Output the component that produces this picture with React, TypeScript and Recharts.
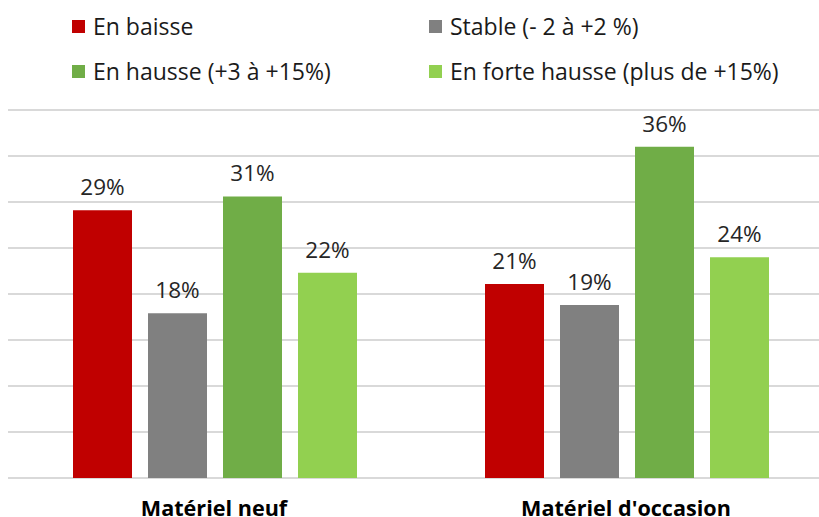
import React from "react";
import { BarChart, Bar, XAxis, YAxis, CartesianGrid, LabelList } from "recharts";

const categories = ["Matériel neuf", "Matériel d'occasion"];
const seriesNames = ["En baisse", "Stable (- 2 à +2 %)", "En hausse (+3 à +15%)", "En forte hausse (plus de +15%)"];
const enBaisse = [29.1, 21.1];
const stable = [17.9, 18.8];
const enHausse = [30.6, 36.0];
const forteHausse = [22.3, 24.0];
const yTicks = [0, 5, 10, 15, 20, 25, 30, 35, 40];

const colors = ["#C00000", "#808080", "#70AD47", "#92D050"];
const keys = ["baisse", "stable", "hausse", "forte"];
const seriesValues = [enBaisse, stable, enHausse, forteHausse];

const data = categories.map((c, i) => {
  const row: any = { name: c };
  keys.forEach((k, j) => (row[k] = seriesValues[j][i]));
  return row;
});

const FONT = "'Open Sans', 'Liberation Sans', sans-serif";

const Tick = (props: any) => {
  const { x, y, payload } = props;
  return (
    <text x={x} y={y} dy={38} textAnchor="middle" fill="#000" fontFamily={FONT} fontSize={21.6} fontWeight="bold">
      {payload.value}
    </text>
  );
};

const legendPos = [
  { left: 72, top: 19 },
  { left: 429, top: 19 },
  { left: 72, top: 64 },
  { left: 429, top: 64 },
];

export default function App() {
  return (
    <div style={{ position: "absolute", left: 0, top: 0, width: 819, height: 517, overflow: "hidden", background: "#fff" }}>
      {seriesNames.map((n, i) => (
        <div key={n} style={{ position: "absolute", left: legendPos[i].left, top: legendPos[i].top - 9, height: 32, display: "flex", alignItems: "center", fontFamily: FONT, fontSize: 23, color: "#1a1a1a", whiteSpace: "nowrap" }}>
          <span style={{ display: "inline-block", width: 13, height: 13, background: colors[i], marginRight: 8 }} />
          <span>{n}</span>
        </div>
      ))}
      <div style={{ position: "absolute", left: 0, top: 0 }}>
        <BarChart width={832} height={540} data={data} margin={{ top: 110, right: 0, left: 8, bottom: 0 }} barCategoryGap={65} barGap={16}>
          <CartesianGrid vertical={false} stroke="#d9d9d9" strokeWidth={2} />
          <YAxis hide domain={[0, 40]} ticks={yTicks} />
          <XAxis dataKey="name" height={62} axisLine={false} tickLine={false} tickSize={0} tickMargin={0} tick={<Tick />} interval={0} />
          {keys.map((k, i) => (
            <Bar key={k} dataKey={k} name={seriesNames[i]} fill={colors[i]} isAnimationActive={false}>
              <LabelList dataKey={k} position="top" offset={15} formatter={(v: any) => `${Math.round(v)}%`} fill="#262626" fontFamily={FONT} fontSize={22.5} />
            </Bar>
          ))}
        </BarChart>
      </div>
    </div>
  );
}
